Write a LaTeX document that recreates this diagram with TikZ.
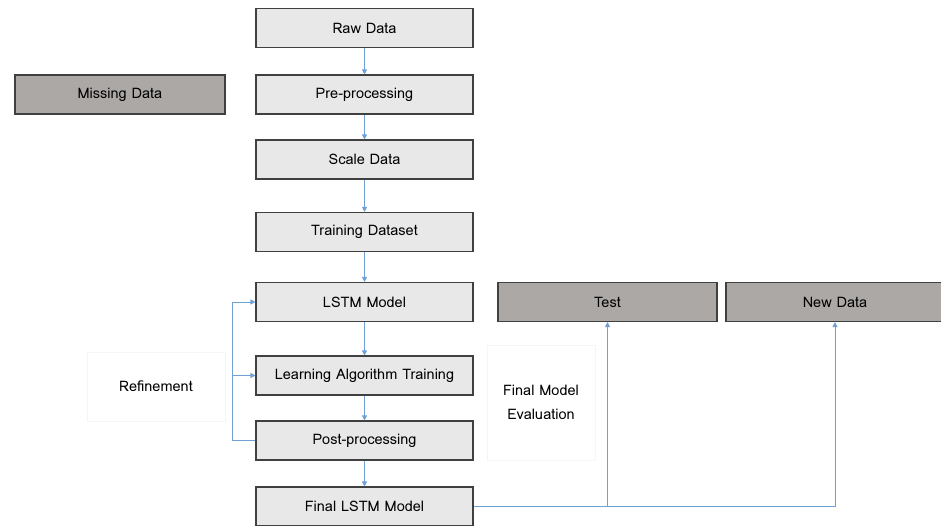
\documentclass[tikz,border=0pt]{standalone}
\usepackage{fontspec}
\setmainfont{Loma}
\usetikzlibrary{arrows.meta}
\definecolor{boxgray}{RGB}{232,232,232}
\definecolor{shadegray}{RGB}{172,168,166}
\definecolor{linkblue}{RGB}{112,160,214}

\begin{document}
\begin{tikzpicture}[x=1pt, y=-1pt,
  every node/.style={draw=black!75, line width=1.1pt, fill=boxgray, minimum width=217pt, minimum height=39pt, inner sep=0pt, font=\fontsize{14.5}{17}\selectfont},
  dark/.style={fill=shadegray},
  faint/.style={draw=black!4, line width=0.5pt, fill=none, align=center},
  link/.style={draw=linkblue, line width=0.9pt, -{Triangle[length=5pt, width=5pt]}}]
\clip (0,0) rectangle (941,525);
\node (raw) at (364.5,28) {Raw Data};
\node (pre) at (364.5,94.5) {Pre-processing};
\node (scale) at (364.5,159.5) {Scale Data};
\node (train) at (364.5,232) {Training Dataset};
\node (lstm) at (364.5,302) {LSTM Model};
\node (learn) at (364.5,375.5) {Learning Algorithm Training};
\node (post) at (364.5,440.5) {Post-processing};
\node (final) at (364.5,506.5) {Final LSTM Model};
\node[dark, minimum width=210pt] (miss) at (120,94.5) {Missing Data};
\node[dark, minimum width=219pt] (test) at (607.5,302) {Test};
\node[dark, minimum width=218pt] (new) at (835,302) {New Data};
\node[faint, minimum width=138pt, minimum height=69pt] (refine) at (156,386.5) {Refinement};
\node[faint, minimum width=108pt, minimum height=115pt, font=\fontsize{14.5}{24}\selectfont] (eval) at (541,402.5) {Final Model\\Evaluation};
\draw[link] (raw) -- (pre);
\draw[link] (pre) -- (scale);
\draw[link] (scale) -- (train);
\draw[link] (train) -- (lstm);
\draw[link] (lstm) -- (learn);
\draw[link] (learn) -- (post);
\draw[link] (post) -- (final);
\coordinate (bend) at ([xshift=-23pt]post.west);
\draw[link] (post.west) -- (bend) |- (lstm.west);
\draw[link] (bend) |- (learn.west);
\draw[link] (final.east) -| (new.south);
\draw[link] (final.east -| test.south) -- (test.south);
\end{tikzpicture}
\end{document}
